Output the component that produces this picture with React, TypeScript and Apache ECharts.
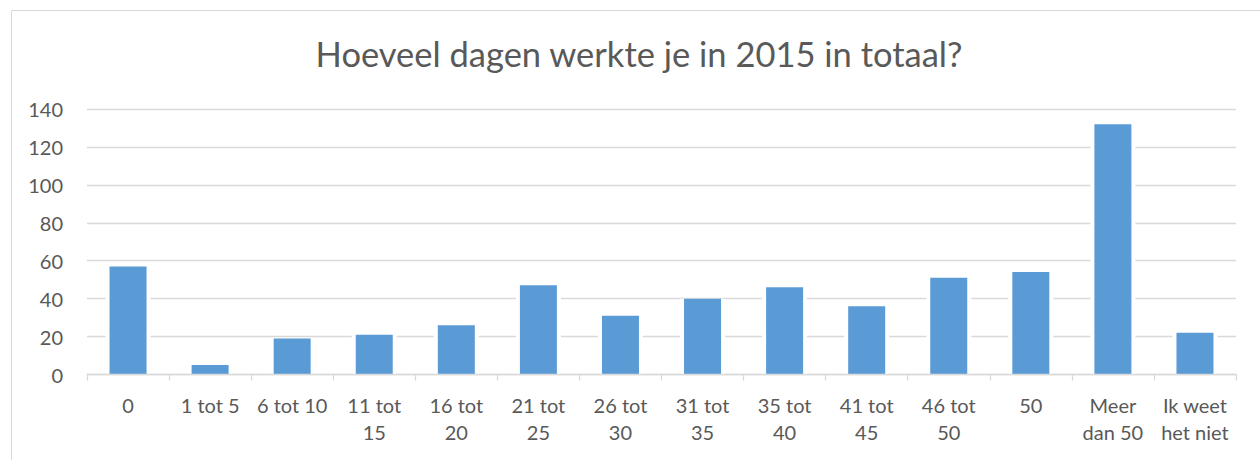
import React, { useEffect, useRef } from "react";
import * as echarts from "echarts";

const titleText = "Hoeveel dagen werkte je in 2015 in totaal?";
const categories = [
  "0",
  "1 tot 5",
  "6 tot 10",
  "11 tot\n15",
  "16 tot\n20",
  "21 tot\n25",
  "26 tot\n30",
  "31 tot\n35",
  "35 tot\n40",
  "41 tot\n45",
  "46 tot\n50",
  "50",
  "Meer\ndan 50",
  "Ik weet\nhet niet",
];
const values = [57, 5, 19, 21, 26, 47, 31, 40, 46, 36, 51, 54, 132, 22];
const yMin = 0;
const yMax = 140;
const yStep = 20;

const FONT = "Lato, 'Noto Sans', sans-serif";
const TEXT_COLOR = "#595959";
const GRID_COLOR = "#d9d9d9";
const BAR_COLOR = "#5b9bd5";

export default function App() {
  const ref = useRef<HTMLDivElement>(null);
  useEffect(() => {
    if (!ref.current) return;
    const chart = echarts.init(ref.current, undefined, { renderer: "svg" });
    chart.setOption({
      animation: false,
      backgroundColor: "#ffffff",
      textStyle: { fontFamily: FONT },
      graphic: [
        {
          type: "rect",
          silent: true,
          shape: { x: 11.5, y: 10.5, width: 1300, height: 500 },
          style: { fill: "none", stroke: GRID_COLOR, lineWidth: 1 },
        },
        {
          type: "text",
          silent: true,
          x: 639,
          y: 53,
          style: {
            text: titleText,
            textAlign: "center",
            textVerticalAlign: "middle",
            fontSize: 34.5,
            fontFamily: FONT,
            fill: TEXT_COLOR,
          },
        },
      ],
      grid: { left: 87, right: 24, top: 109, bottom: 85.5, containLabel: false },
      xAxis: [
        {
          type: "category",
          data: categories,
          z: 5,
          axisLine: { show: true, lineStyle: { color: GRID_COLOR, width: 1.3 } },
          axisTick: { show: true, length: 6, lineStyle: { color: GRID_COLOR, width: 1.3 } },
          axisLabel: {
            color: TEXT_COLOR,
            fontSize: 20,
            lineHeight: 27,
            margin: 17,
            fontFamily: FONT,
            interval: 0,
          },
        },
        {
          type: "category",
          data: categories,
          show: false,
        },
      ],
      yAxis: {
        type: "value",
        min: yMin,
        max: yMax,
        interval: yStep,
        axisLine: { show: false },
        axisTick: { show: false },
        axisLabel: { color: TEXT_COLOR, fontSize: 20, margin: 24, fontFamily: FONT },
        splitLine: { show: true, lineStyle: { color: GRID_COLOR, width: 1.3 } },
      },
      series: [
        {
          type: "bar",
          name: "gap",
          xAxisIndex: 1,
          data: values,
          barWidth: 45,
          silent: true,
          itemStyle: { color: "#ffffff" },
          z: 2,
        },
        {
          type: "bar",
          name: "Aantal",
          xAxisIndex: 0,
          data: values,
          barWidth: 37,
          itemStyle: { color: BAR_COLOR },
          z: 3,
        },
      ],
    });
    return () => chart.dispose();
  }, []);
  return (
    <div
      ref={ref}
      style={{ position: "fixed", left: 0, top: 0, width: 1260, height: 460 }}
    />
  );
}
